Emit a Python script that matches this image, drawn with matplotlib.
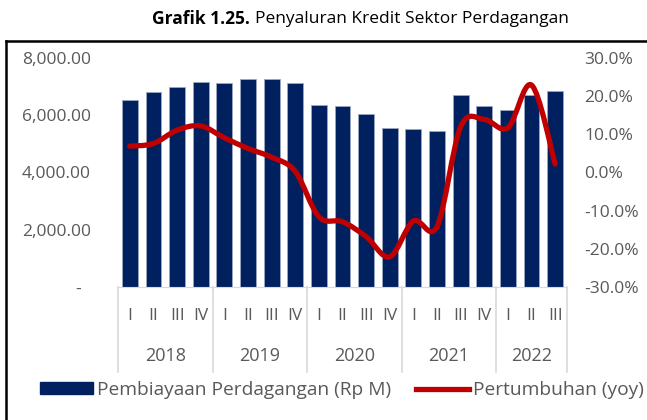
import matplotlib; matplotlib.use("Agg")
import matplotlib.pyplot as plt
import numpy as np
from matplotlib.path import Path
from matplotlib.patches import PathPatch, Patch
from matplotlib.lines import Line2D
import matplotlib.transforms as mtransforms

plt.rcParams["font.family"] = ["Open Sans", "DejaVu Sans"]

years = ["2018", "2019", "2020", "2021", "2022"]
quarters = ["I", "II", "III", "IV"] * 4 + ["I", "II", "III"]
credit = [6550, 6820, 6980, 7150, 7110, 7250, 7250, 7130,
          6350, 6310, 6030, 5560, 5530, 5450, 6720, 6320,
          6180, 6700, 6850]
growth = [6.9, 7.6, 11.1, 12.2, 9.1, 6.3, 4.0, 0.3,
          -11.6, -12.9, -16.8, -22.1, -12.7, -14.2, 12.0, 13.9,
          11.7, 22.9, 2.2]
q_per_year = [4, 4, 4, 4, 3]

W, H = 647, 420
PX = 72/100  # points per pixel
fig = plt.figure(figsize=(W/100, H/100), dpi=100)
ax = fig.add_axes([118/W, 1-287/H, (567-118)/W, (287-58)/H])
ax2 = ax.twinx()

GRAY = "#595959"
x = np.arange(len(credit))
ax.bar(x, credit, width=0.67, color="#002060", edgecolor="#9aa8c0", linewidth=0.6, zorder=2)
ax.set_xlim(-0.5, len(credit)-0.5)
ax.set_ylim(0, 8000)
ax.set_yticks([0, 2000, 4000, 6000, 8000])
ax.set_yticklabels(["-  ", "2,000.00", "4,000.00", "6,000.00", "8,000.00"])
ax.tick_params(axis="y", length=0, pad=27*PX, labelsize=12.5, labelcolor=GRAY)
ax.set_xticks([])
for s in ["top", "right", "left"]:
    ax.spines[s].set_visible(False)
    ax2.spines[s].set_visible(False)
ax.spines["bottom"].set_color("#d9d9d9")
ax2.spines["bottom"].set_visible(False)

# smooth growth line (Excel style), built as cubic bezier segments
pts = np.column_stack([x, growth]).astype(float)
verts = [tuple(pts[0])]; codes = [Path.MOVETO]
n = len(pts)
for i in range(n-1):
    p0 = pts[max(i-1, 0)]; p1 = pts[i]; p2 = pts[i+1]; p3 = pts[min(i+2, n-1)]
    c1 = p1 + (p2-p0)/6; c2 = p2 - (p3-p1)/6
    verts += [tuple(c1), tuple(c2), tuple(p2)]; codes += [Path.CURVE4]*3
ax2.add_patch(PathPatch(Path(verts, codes), facecolor="none", edgecolor="#C00000",
                        lw=3.8, capstyle="round", joinstyle="round", zorder=3))
ax2.set_ylim(-30, 30)
ax2.set_yticks(np.arange(-30, 31, 10))
ax2.set_yticklabels([f"{v:.1f}%" for v in np.arange(-30, 31, 10)])
ax2.tick_params(axis="y", length=0, pad=17*PX, labelsize=12.5, labelcolor=GRAY)

# multi-level category axis
tr = mtransforms.blended_transform_factory(ax.transData, ax.transAxes)
for i, q in enumerate(quarters):
    ax.text(i, -0.127, q, transform=tr, ha="center", va="center", fontsize=12.5, color=GRAY)
bounds = np.concatenate([[0], np.cumsum(q_per_year)]) - 0.5
for b in bounds:
    ax.plot([b, b], [0, -0.371], transform=tr, color="#d9d9d9", lw=1.2, clip_on=False)
for j, yr in enumerate(years):
    ax.text((bounds[j]+bounds[j+1])/2, -0.301, yr, transform=tr, ha="center", va="center",
            fontsize=13, color=GRAY)

# legend
handles = [Patch(facecolor="#002060", edgecolor="#002060"),
           Line2D([0], [0], color="#C00000", lw=3.8)]
fig.legend(handles, ["Pembiayaan Perdagangan (Rp M)", "Pertumbuhan (yoy)"],
           loc="center", bbox_to_anchor=(342/W, 1-390/H), ncol=2, frameon=False,
           fontsize=13.8, labelcolor=GRAY, handlelength=2.75, handleheight=0.6,
           handletextpad=0.2, columnspacing=1.3, borderpad=0)

# title
t1 = fig.text(152/W, 1-19/H, "Grafik 1.25.", fontsize=12.5, weight="bold", ha="left", va="center")
fig.canvas.draw()
bb = t1.get_window_extent()
fig.text(bb.x1/W + 5/W, 1-19/H, "Penyaluran Kredit Sektor Perdagangan", fontsize=12.5,
         ha="left", va="center")

# frame
fig.add_artist(Line2D([6/W, 6/W], [0, 1-41/H], color="black", lw=1.8))
fig.add_artist(Line2D([6/W, 1], [1-41/H, 1-41/H], color="black", lw=1.8))

fig.savefig("out.png", dpi=100)
